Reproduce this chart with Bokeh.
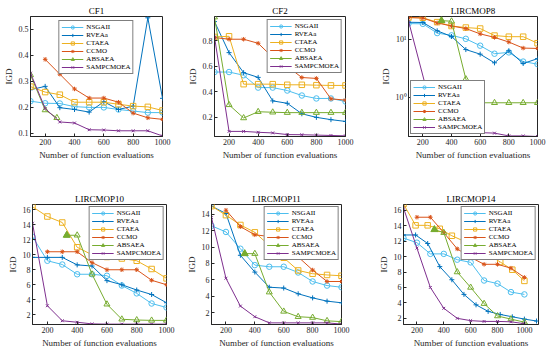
from bokeh.plotting import figure
from bokeh.layouts import column, row
from bokeh.models import Range1d, FixedTicker, CustomJSTickFormatter
from bokeh.embed import file_html
from bokeh.resources import INLINE

FONT = "Liberation Serif"
INK = "#262626"

NAMES = ["NSGAII", "RVEAa", "CTAEA", "CCMO", "ABSAEA", "SAMPCMOEA"]
COLORS = ["#4DBEEE", "#0072BD", "#EDB120", "#D95319", "#77AC30", "#7E2F8E"]
MARKERS = ["circle", "cross", "square", "asterisk", "triangle", "x"]
SIZES = [5.5, 5, 5.5, 4.5, 6, 4]
FILLED = [False, False, False, True, False, False]

X = [100, 200, 300, 400, 500, 600, 700, 800, 900, 1000]
X_CC = [200, 300, 400, 500, 600, 700, 800, 900, 1000]
X_AB = [330, 400, 500, 600, 700, 800, 900, 1000]
X_TICKS = [200, 400, 600, 800, 1000]

# ---- CF1
cf1_x_ab = [100, 200, 280]
cf1_nsga = [0.224, 0.216, 0.215, 0.203, 0.200, 0.200, 0.192, 0.186, 0.180, 0.180]
cf1_rvea = [0.268, 0.281, 0.199, 0.192, 0.182, 0.222, 0.192, 0.205, 0.545, 0.235]
cf1_ctaea = [0.280, 0.259, 0.249, 0.220, 0.220, 0.220, 0.212, 0.205, 0.202, 0.188]
cf1_ccmo = [0.385, 0.328, 0.271, 0.236, 0.236, 0.220, 0.178, 0.160, 0.154]
cf1_absaea = [0.325, 0.190, 0.160]
cf1_samp = [0.332, 0.196, 0.144, 0.140, 0.114, 0.113, 0.110, 0.110, 0.110, 0.090]

# ---- CF2
cf2_nsga = [0.555, 0.555, 0.530, 0.433, 0.433, 0.410, 0.371, 0.348, 0.348, 0.324]
cf2_rvea = [0.950, 0.707, 0.550, 0.513, 0.329, 0.310, 0.228, 0.200, 0.182, 0.168]
cf2_ctaea = [0.830, 0.835, 0.460, 0.460, 0.460, 0.455, 0.455, 0.452, 0.450, 0.450]
cf2_ccmo = [0.825, 0.812, 0.812, 0.780, 0.670, 0.600, 0.512, 0.505, 0.345, 0.335]
cf2_absaea = [0.985, 0.298, 0.195, 0.244, 0.240, 0.237, 0.237, 0.237, 0.237, 0.237]
cf2_samp = [0.830, 0.090, 0.090, 0.083, 0.078, 0.065, 0.064, 0.061, 0.058, 0.055]

# ---- LIRCMOP8
l8_x_samp = [100, 300, 400, 500, 600, 700, 800, 900, 1000]
l8_nsga = [18.5, 18.3, 12.7, 11.6, 10.1, 7.7, 5.6, 5.9, 4.1, 3.7]
l8_rvea = [19.5, 19.3, 13.9, 11.1, 6.6, 5.5, 3.9, 6.3, 3.8, 4.6]
l8_ctaea = [23.5, 23.3, 19.6, 16.8, 15.8, 15.2, 11.5, 11.0, 11.0, 8.5]
l8_ccmo = [23.5, 23.0, 19.0, 16.8, 15.2, 12.3, 10.7, 8.9, 7.0, 6.9]
l8_absaea = [20.8, 20.3, 2.05, 0.8, 0.8, 0.8, 0.8, 0.8]
l8_samp = [20.5, 0.27, 0.26, 0.25, 0.245, 0.24, 0.215, 0.215, 0.21]

# ---- LIRCMOP10
l10_nsga = [12.4, 9.2, 8.7, 7.4, 7.4, 7.2, 5.9, 4.85, 3.5, 2.97]
l10_rvea = [9.65, 9.65, 9.65, 8.65, 8.5, 6.55, 6.0, 5.3, 4.7, 3.6]
l10_ctaea = [16.4, 15.1, 14.3, 11.0, 10.0, 9.7, 9.5, 9.2, 8.1, 6.85]
l10_ccmo = [10.4, 10.4, 10.4, 8.95, 8.0, 8.0, 8.0, 6.6, 6.0]
l10_absaea = [12.6, 12.6, 7.4, 3.4, 1.4, 1.3, 1.25, 1.25]
l10_samp = [14.2, 3.2, 1.2, 1.0, 0.78, 0.75, 0.75, 0.75, 0.75, 0.75]

# ---- LIRCMOP11
l11_nsga = [12.6, 11.85, 9.8, 7.8, 7.6, 7.6, 6.9, 5.8, 5.3, 5.1]
l11_rvea = [15.0, 14.1, 9.0, 6.95, 5.1, 5.0, 4.3, 3.8, 3.4, 3.2]
l11_ctaea = [15.0, 13.9, 12.7, 11.8, 10.2, 8.7, 7.15, 6.75, 6.6, 6.5]
l11_ccmo = [14.5, 12.5, 11.5, 11.3, 10.0, 8.8, 7.2, 5.8, 5.8]
l11_absaea = [9.2, 9.2, 4.5, 2.15, 1.5, 1.4, 1.0, 0.9]
l11_samp = [13.6, 6.2, 2.8, 1.5, 0.75, 0.75, 0.75, 0.75, 0.75, 0.6]

# ---- LIRCMOP14
l14_x_rvea = [100, 190, 280, 370, 460, 550, 640, 730, 820, 910, 1000, 1090]
l14_x_ctaea = [100, 190, 280, 370, 460, 550, 640, 730, 820, 910, 1000]
l14_nsga = [12.4, 11.8, 10.35, 10.35, 9.6, 9.25, 6.9, 6.5, 5.4, 5.1]
l14_rvea = [12.8, 12.8, 11.7, 8.7, 7.0, 5.1, 3.75, 2.9, 2.5, 2.2, 1.9, 1.65]
l14_ctaea = [16.8, 14.05, 14.05, 13.6, 12.7, 12.0, 11.2, 10.3, 9.3, 8.3, 6.85]
l14_ccmo = [15.1, 15.1, 13.1, 11.0, 9.9, 9.0, 9.0, 8.5, 7.3]
l14_absaea = [13.5, 13.1, 8.0, 6.0, 3.9, 2.3, 1.9, 1.5]
l14_samp = [16.3, 11.1, 6.0, 3.3, 2.0, 1.7, 1.6, 1.6, 1.55, 1.3]


def make(title, w, h, b, xr, yr, yticks, series, legend_loc, legend_margin,
         log=False, mark_first_ab=False):
    kw = dict(width=w, height=h, output_backend="svg", toolbar_location=None,
              min_border_left=b[0], min_border_right=b[1],
              min_border_top=b[2], min_border_bottom=b[3],
              x_range=Range1d(*xr), y_range=Range1d(*yr))
    if log:
        kw["y_axis_type"] = "log"
    p = figure(**kw)
    p.title.text = title
    p.title.align = "center"
    p.title.text_font = FONT
    p.title.text_font_size = "9px"
    p.title.text_font_style = "normal"
    p.title.text_color = "black"
    p.title.standoff = 1
    p.xgrid.visible = False
    p.ygrid.visible = False
    p.outline_line_color = INK
    p.outline_line_alpha = 1
    p.background_fill_color = "white"
    p.border_fill_color = "white"
    p.xaxis.axis_label = "Number of function evaluations"
    p.yaxis.axis_label = "IGD"
    p.xaxis.ticker = FixedTicker(ticks=X_TICKS)
    p.yaxis.ticker = FixedTicker(ticks=yticks)
    if log:
        p.yaxis.formatter = CustomJSTickFormatter(
            code="return tick >= 10 ? '10\u00b9' : '10\u2070';")
    for ax in p.xaxis + p.yaxis:
        ax.major_tick_in = 3
        ax.major_tick_out = 0
        ax.minor_tick_line_color = None
        ax.axis_line_color = INK
        ax.major_tick_line_color = INK
        ax.major_label_text_font = FONT
        ax.major_label_text_font_size = "8px"
        ax.major_label_text_color = INK
        ax.major_label_standoff = 2
        ax.axis_label_text_font = FONT
        ax.axis_label_text_font_size = "9px"
        ax.axis_label_text_font_style = "normal"
        ax.axis_label_text_color = INK
        ax.axis_label_standoff = 2
    for i, (xs, ys) in enumerate(series):
        c = COLORS[i]
        p.line(xs, ys, line_color=c, line_width=1, legend_label=NAMES[i])
        p.scatter(xs, ys, marker=MARKERS[i], size=SIZES[i], line_color=c,
                  line_width=1, fill_color=c if FILLED[i] else None,
                  legend_label=NAMES[i])
    if mark_first_ab:
        xs, ys = series[4]
        p.scatter([xs[0]], [ys[0]], marker="triangle", size=7,
                  line_color=COLORS[4], fill_color=COLORS[4])
    lg = p.legend[0]
    lg.location = legend_loc
    lg.margin = legend_margin
    lg.label_text_font = FONT
    lg.label_text_font_size = "7px"
    lg.label_text_line_height = 1.05
    lg.label_text_color = "black"
    lg.glyph_width = 22
    lg.glyph_height = 8
    lg.label_height = 8
    lg.label_standoff = 3
    lg.spacing = 0
    lg.padding = 2
    lg.border_line_color = "black"
    lg.border_line_width = 1
    lg.background_fill_alpha = 1
    return p


p1 = make("CF1", 183, 177, (29, 21, 16, 40), (100, 1000), (0.088, 0.55),
          [0.1, 0.2, 0.3, 0.4, 0.5],
          [(X, cf1_nsga), (X, cf1_rvea), (X, cf1_ctaea), (X_CC, cf1_ccmo),
           (cf1_x_ab, cf1_absaea), (X, cf1_samp)], "top_center", 4)
p2 = make("CF2", 183, 177, (31, 21, 16, 40), (100, 1000), (0.05, 0.99),
          [0.2, 0.4, 0.6, 0.8],
          [(X, cf2_nsga), (X, cf2_rvea), (X, cf2_ctaea), (X, cf2_ccmo),
           (X, cf2_absaea), (X, cf2_samp)], "top_right", 3)
p3 = make("LIRCMOP8", 184, 177, (42, 13, 16, 41), (100, 1000), (0.21, 24.5),
          [1, 10],
          [(X, l8_nsga), (X, l8_rvea), (X, l8_ctaea), (X, l8_ccmo),
           (X_AB, l8_absaea), (l8_x_samp, l8_samp)], "bottom_left", 2,
          log=True, mark_first_ab=True)
p4 = make("LIRCMOP10", 183, 177, (32, 17, 24, 30), (100, 1000), (0.7, 16.7),
          [2, 4, 6, 8, 10, 12, 14, 16],
          [(X, l10_nsga), (X, l10_rvea), (X, l10_ctaea), (X_CC, l10_ccmo),
           (X_AB, l10_absaea), (X, l10_samp)], "top_right", 2, mark_first_ab=True)
p5 = make("LIRCMOP11", 183, 177, (24, 25, 27, 30), (100, 1000), (0.55, 15.2),
          [2, 4, 6, 8, 10, 12, 14],
          [(X, l11_nsga), (X, l11_rvea), (X, l11_ctaea), (X_CC, l11_ccmo),
           (X_AB, l11_absaea), (X, l11_samp)], "top_right", 2, mark_first_ab=True)
p6 = make("LIRCMOP14", 184, 177, (37, 12, 27, 30), (100, 1105), (1.2, 16.75),
          [2, 4, 6, 8, 10, 12, 14, 16],
          [(X, l14_nsga), (l14_x_rvea, l14_rvea), (l14_x_ctaea, l14_ctaea),
           (X_CC, l14_ccmo), (X_AB, l14_absaea), (X, l14_samp)], "top_right", 2,
          mark_first_ab=True)

layout = column(row(p1, p2, p3, spacing=0), row(p4, p5, p6, spacing=0), spacing=0)
open("out.html", "w").write(file_html(layout, INLINE))
